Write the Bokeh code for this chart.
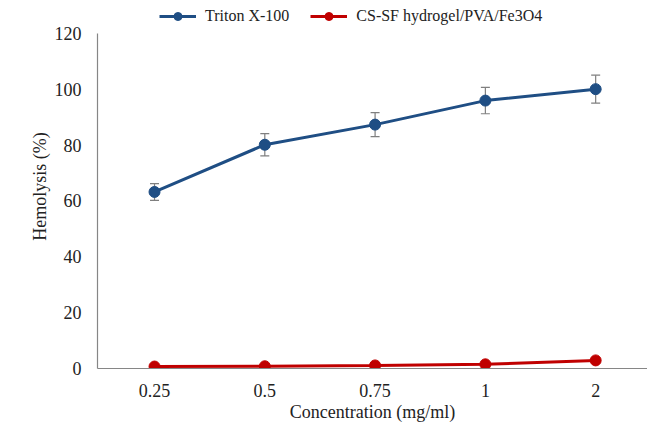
from bokeh.plotting import figure
from bokeh.models import ColumnDataSource, Range1d, FixedTicker, Whisker, TeeHead, Legend, LegendItem
from bokeh.embed import file_html
from bokeh.resources import INLINE

concentrations = ["0.25", "0.5", "0.75", "1", "2"]
triton = [63.2, 80.1, 87.3, 95.9, 100.0]
triton_err = [3.0, 4.0, 4.3, 4.7, 5.0]
cssf = [0.7, 0.8, 1.1, 1.5, 2.9]
y_ticks = [0, 20, 40, 60, 80, 100, 120]

xs = list(range(len(concentrations)))
src_t = ColumnDataSource(dict(
    x=xs, y=triton,
    lo=[v - e for v, e in zip(triton, triton_err)],
    hi=[v + e for v, e in zip(triton, triton_err)],
))
src_c = ColumnDataSource(dict(x=xs, y=cssf))

FONT = "Liberation Serif"
BLUE = "#1f4e84"
RED = "#c00000"

p = figure(width=647, height=424, output_backend="svg", toolbar_location=None,
           x_range=Range1d(-0.517, 4.47), y_range=Range1d(0, 130.3),
           min_border_left=97, min_border_right=0, min_border_top=4, min_border_bottom=55)
p.outline_line_color = None
p.xgrid.grid_line_color = None
p.ygrid.grid_line_color = None

w = Whisker(source=src_t, base="x", upper="hi", lower="lo",
            line_color="#7f7f7f", line_width=1.2,
            upper_head=TeeHead(size=9, line_color="#7f7f7f", line_width=1.2),
            lower_head=TeeHead(size=9, line_color="#7f7f7f", line_width=1.2))
p.add_layout(w)

l1 = p.line("x", "y", source=src_t, line_color=BLUE, line_width=3)
c1 = p.scatter("x", "y", source=src_t, size=11, fill_color=BLUE, line_color=BLUE)
l2 = p.line("x", "y", source=src_c, line_color=RED, line_width=3)
c2 = p.scatter("x", "y", source=src_c, size=11, fill_color=RED, line_color=RED)

for ax in (p.xaxis[0], p.yaxis[0]):
    ax.major_tick_line_color = None
    ax.minor_tick_line_color = None
    ax.axis_line_color = "#868686"
    ax.axis_line_width = 1.2
    ax.major_label_text_font = FONT
    ax.major_label_text_font_size = "18px"
    ax.major_label_text_color = "#222222"
    ax.axis_label_text_font = FONT
    ax.axis_label_text_font_size = "18px"
    ax.axis_label_text_font_style = "normal"
    ax.axis_label_text_color = "#222222"

p.xaxis.ticker = FixedTicker(ticks=xs)
p.xaxis.major_label_overrides = {i: c for i, c in enumerate(concentrations)}
p.xaxis.major_label_standoff = 9
p.xaxis.axis_label = "Concentration (mg/ml)"
p.xaxis.axis_label_standoff = 2

p.yaxis.ticker = FixedTicker(ticks=y_ticks)
p.yaxis.bounds = (0, 120)
p.yaxis.major_label_standoff = 10
p.yaxis.axis_label = "Hemolysis (%)"
p.yaxis.axis_label_standoff = 2

legend = Legend(items=[LegendItem(label="Triton X-100", renderers=[l1, c1]),
                       LegendItem(label="CS-SF hydrogel/PVA/Fe3O4", renderers=[l2, c2])],
                orientation="horizontal", location=(62, 342),
                label_text_font=FONT, label_text_font_size="16px", label_text_color="#222222",
                glyph_width=37, glyph_height=20, label_standoff=9, spacing=21,
                padding=0, margin=0, border_line_color=None, background_fill_alpha=0)
p.add_layout(legend)

open("out.html", "w").write(file_html(p, INLINE))
